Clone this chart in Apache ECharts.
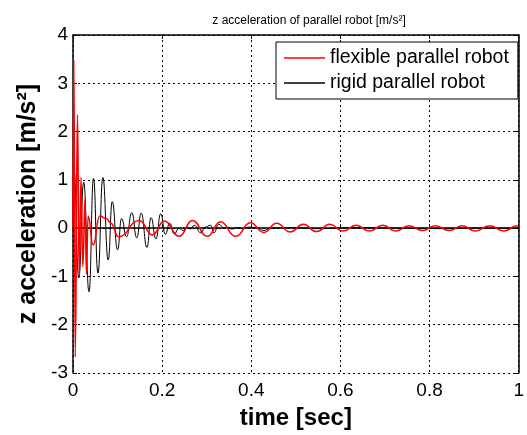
<!DOCTYPE html>
<html>
<head>
<meta charset="utf-8">
<script src="https://cdn.jsdelivr.net/npm/echarts@6/dist/echarts.min.js"></script>
<style>
html,body{margin:0;padding:0;background:#fff;}
#chart{width:527px;height:435px;}
</style>
</head>
<body>
<div id="chart"></div>
<script>
// ---- data ----
const xTicks = [0, 0.2, 0.4, 0.6, 0.8, 1];
const yTicks = [-3, -2, -1, 0, 1, 2, 3, 4];
const seriesNames = ['flexible parallel robot', 'rigid parallel robot'];

// flexible parallel robot (red): time [s], z acceleration [m/s^2]
const flexT = [0, 0.002, 0.005, 0.010, 0.014, 0.018, 0.022, 0.027, 0.030, 0.034, 0.045, 0.060, 0.075, 0.085, 0.102, 0.149, 0.178, 0.205, 0.238, 0.268, 0.301, 0.331, 0.365, 0.398, 0.428, 0.457, 0.487, 0.517, 0.546, 0.576, 0.606, 0.635, 0.665, 0.695, 0.724, 0.754, 0.784, 0.813, 0.844, 0.873, 0.902, 0.935, 0.967, 0.996, 1.0];
const flexV = [0, 3.48, -2.67, 2.35, -1.0, 1.05, -0.8, 0.6, -0.95, 0.25, -0.35, 0.25, 0.2, 0.1, -0.18, 0.16, -0.14, 0.15, -0.17, 0.16, -0.17, 0.13, -0.17, 0.11, -0.09, 0.10, -0.08, 0.08, -0.07, 0.08, -0.06, 0.06, -0.06, 0.06, -0.06, 0.05, -0.05, 0.05, -0.05, 0.05, -0.06, 0.05, -0.06, 0.05, 0.04];

// rigid parallel robot (black)
const rigidT = [0, 0.002, 0.013, 0.024, 0.036, 0.046, 0.056, 0.067, 0.079, 0.088, 0.100, 0.109, 0.120, 0.132, 0.143, 0.153, 0.166, 0.175, 0.186, 0.197, 0.207, 0.217, 0.227, 0.238, 0.247, 0.256, 0.263, 0.272, 0.287, 0.296, 0.309, 0.316, 0.327, 0.339, 0.347, 0.356, 0.367, 0.383, 0.394, 0.412, 0.428, 0.443, 0.483, 0.550, 0.639, 0.728, 0.817, 0.906, 1.0];
const rigidV = [0, 1.2, -1.03, 0.95, -1.32, 1.03, -0.93, 1.05, -0.66, 0.55, -0.45, 0.2, -0.18, 0.32, -0.2, 0.31, -0.4, 0.22, -0.22, 0.3, -0.13, 0.1, -0.12, 0.0, -0.05, 0.03, -0.02, 0.06, -0.1, 0.02, 0.06, -0.1, 0.08, 0.0, 0.02, -0.02, 0.01, -0.01, 0.02, 0.01, -0.05, 0.0, 0.01, -0.01, 0.01, 0.0, -0.01, 0.0, 0.0];

const pairs = (t, v) => t.map((x, i) => [x, v[i]]);
const FONT = 'Liberation Sans, Arial, sans-serif';

const chart = echarts.init(document.getElementById('chart'), null, {renderer: 'canvas'});
const gridLine = {show: true, lineStyle: {color: '#000', width: 1, type: [2, 3]}};
chart.setOption({
  animation: false,
  backgroundColor: '#fff',
  title: {
    text: 'z acceleration of parallel robot [m/s²]',
    left: 304, top: 10, textAlign: 'center',
    textStyle: {fontFamily: FONT, fontSize: 12, fontWeight: 'normal', color: '#000'}
  },
  legend: {
    data: [
      {name: seriesNames[0], icon: 'rect', itemStyle: {color: '#ff0000'}},
      {name: seriesNames[1], icon: 'rect', itemStyle: {color: '#000'}}
    ],
    orient: 'vertical',
    left: 276, top: 42,
    padding: [6, 9, 6, 8],
    itemWidth: 41, itemHeight: 1.5, itemGap: 5,
    backgroundColor: '#fff',
    borderColor: '#000', borderWidth: 1, borderRadius: 0,
    textStyle: {fontFamily: FONT, fontSize: 19.5, lineHeight: 20, color: '#000'},
    selectedMode: false
  },
  grid: {left: 73, right: 5, top: 35, bottom: 56, containLabel: false},
  xAxis: [{
    type: 'value', min: xTicks[0], max: xTicks[xTicks.length - 1], interval: 0.2,
    name: 'time [sec]', nameLocation: 'middle', nameGap: 33,
    nameTextStyle: {fontFamily: FONT, fontSize: 24, fontWeight: 'bold', color: '#000'},
    axisLine: {show: true, lineStyle: {color: '#000', width: 1.5}},
    axisTick: {show: true, inside: true, length: 4, lineStyle: {color: '#000'}},
    axisLabel: {fontFamily: FONT, fontSize: 19, color: '#000', margin: 8},
    splitLine: gridLine
  }, {
    type: 'value', position: 'top', min: 0, max: 1, interval: 0.2,
    axisLine: {show: true, onZero: false, lineStyle: {color: '#000', width: 1.5}},
    axisTick: {show: true, inside: true, length: 4, lineStyle: {color: '#000'}},
    axisLabel: {show: false}, splitLine: {show: false}
  }],
  yAxis: [{
    type: 'value', min: yTicks[0], max: yTicks[yTicks.length - 1], interval: 1,
    name: 'z acceleration [m/s²]', nameLocation: 'middle', nameGap: 31, nameRotate: 90,
    nameTextStyle: {fontFamily: FONT, fontSize: 25, fontWeight: 'bold', color: '#000'},
    axisLine: {show: true, onZero: false, lineStyle: {color: '#000', width: 1.5}},
    axisTick: {show: true, inside: true, length: 4, lineStyle: {color: '#000'}},
    axisLabel: {fontFamily: FONT, fontSize: 19, color: '#000', margin: 5},
    splitLine: gridLine
  }, {
    type: 'value', position: 'right', min: -3, max: 4, interval: 1,
    axisLine: {show: true, onZero: false, lineStyle: {color: '#000', width: 1.5}},
    axisTick: {show: true, inside: true, length: 4, lineStyle: {color: '#000'}},
    axisLabel: {show: false}, splitLine: {show: false}
  }],
  series: [{
    name: seriesNames[1], type: 'line', data: pairs(rigidT, rigidV),
    symbol: 'none', smooth: 0.5, smoothMonotone: 'x', z: 2,
    lineStyle: {color: '#000', width: 1}, itemStyle: {color: '#000'}
  }, {
    name: seriesNames[0], type: 'line', data: pairs(flexT, flexV),
    symbol: 'none', smooth: 0.5, smoothMonotone: 'x', z: 3,
    lineStyle: {color: '#ff0000', width: 1.5}, itemStyle: {color: '#ff0000'}
  }]
});
</script>
</body>
</html>
